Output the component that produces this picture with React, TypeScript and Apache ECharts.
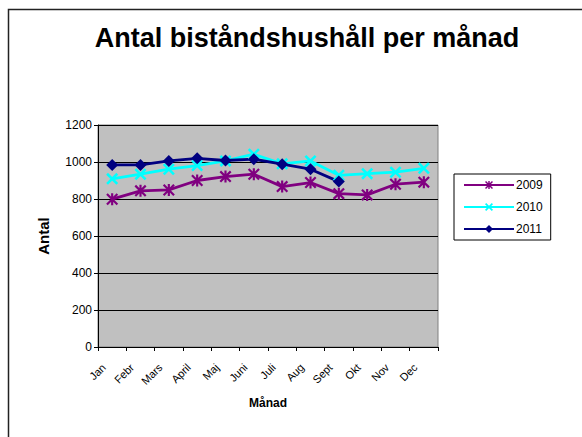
import React, { useEffect, useRef } from "react";
import * as echarts from "echarts";

const months = ["Jan", "Febr", "Mars", "April", "Maj", "Juni", "Juli", "Aug", "Sept", "Okt", "Nov", "Dec"];
const s2009 = [799, 844, 849, 900, 921, 934, 867, 889, 829, 822, 880, 891];
const s2010 = [909, 934, 961, 981, 1006, 1042, 990, 1006, 928, 937, 945, 966];
const s2011 = [984, 984, 1006, 1020, 1008, 1015, 988, 961, 894];
const yTicks = { min: 0, max: 1200, interval: 200 };

const FONT = "'Liberation Sans', Arial, sans-serif";

const ASTERISK =
  "path://M4.1 0 L5.9 0 L5.9 10 L4.1 10 Z M0 1.3 L1.3 0 L10 8.7 L8.7 10 Z M8.7 0 L10 1.3 L1.3 10 L0 8.7 Z";
const XMARK = "path://M0 1.5 L1.5 0 L10 8.5 L8.5 10 Z M8.5 0 L10 1.5 L1.5 10 L0 8.5 Z";

export default function App() {
  const ref = useRef<HTMLDivElement>(null);
  useEffect(() => {
    if (!ref.current) return;
    const chart = echarts.init(ref.current, null, { renderer: "svg" });
    chart.setOption({
      animation: false,
      backgroundColor: "#ffffff",
      textStyle: { fontFamily: FONT },
      title: {
        text: "Antal biståndshushåll per månad",
        left: 302,
        textAlign: "center",
        top: 19,
        textStyle: { fontFamily: FONT, fontSize: 27, fontWeight: "bold", color: "#000" },
      },
      graphic: [
        {
          type: "polyline",
          shape: { points: [[8.5, 437], [8.5, 9.5], [582, 9.5]] },
          style: { stroke: "#222", lineWidth: 1.5, fill: "none" },
          silent: true,
        },
      ],
      legend: {
        orient: "vertical",
        left: 454,
        top: 174,
        padding: [5, 8, 5, 9],
        itemWidth: 50,
        itemHeight: 10,
        itemGap: 10,
        backgroundColor: "#ffffff",
        borderColor: "#000",
        borderWidth: 1,
        borderRadius: 0,
        textStyle: { fontFamily: FONT, fontSize: 12, color: "#000", padding: [0, 0, 0, -3] },
        data: ["2009", "2010", "2011"],
      },
      grid: {
        left: 98,
        right: 144,
        top: 125,
        bottom: 90,
        show: true,
        backgroundColor: "#C0C0C0",
        borderColor: "#808080",
        borderWidth: 1,
      },
      xAxis: {
        type: "category",
        data: months,
        boundaryGap: true,
        name: "Månad",
        nameLocation: "middle",
        nameGap: 50,
        nameTextStyle: { fontFamily: FONT, fontSize: 12, fontWeight: "bold", color: "#000" },
        axisLine: { lineStyle: { color: "#000", width: 1 } },
        axisTick: { show: true, length: 4, lineStyle: { color: "#000" } },
        axisLabel: {
          rotate: 45,
          fontFamily: FONT,
          fontSize: 11,
          color: "#000",
          margin: 10,
          padding: [0, 12, 0, 0],
        },
      },
      yAxis: {
        type: "value",
        min: yTicks.min,
        max: yTicks.max,
        interval: yTicks.interval,
        name: "Antal",
        nameLocation: "middle",
        nameGap: 47,
        nameTextStyle: { fontFamily: FONT, fontSize: 15, fontWeight: "bold", color: "#000" },
        axisLine: { show: true, lineStyle: { color: "#000", width: 1 } },
        axisTick: { show: true, length: 4, lineStyle: { color: "#000" } },
        axisLabel: {
          fontFamily: FONT,
          fontSize: 12,
          color: "#000",
          margin: 6,
          formatter: (v: number) => String(v),
        },
        splitLine: { show: true, lineStyle: { color: "#000", width: 1 } },
      },
      series: [
        {
          name: "2009",
          type: "line",
          data: s2009,
          color: "#800080",
          lineStyle: { width: 2.8, color: "#800080" },
          symbol: ASTERISK,
          symbolSize: 12,
          itemStyle: { color: "#800080" },
        },
        {
          name: "2010",
          type: "line",
          data: s2010,
          color: "#00FFFF",
          lineStyle: { width: 2.8, color: "#00FFFF" },
          symbol: XMARK,
          symbolSize: 12,
          itemStyle: { color: "#00FFFF" },
        },
        {
          name: "2011",
          type: "line",
          data: s2011,
          color: "#000080",
          lineStyle: { width: 2.8, color: "#000080" },
          symbol: "diamond",
          symbolSize: 12,
          itemStyle: { color: "#000080" },
        },
      ],
    });
    return () => chart.dispose();
  }, []);
  return (
    <div
      ref={ref}
      style={{ position: "absolute", left: 0, top: 0, width: 582, height: 437 }}
    />
  );
}
